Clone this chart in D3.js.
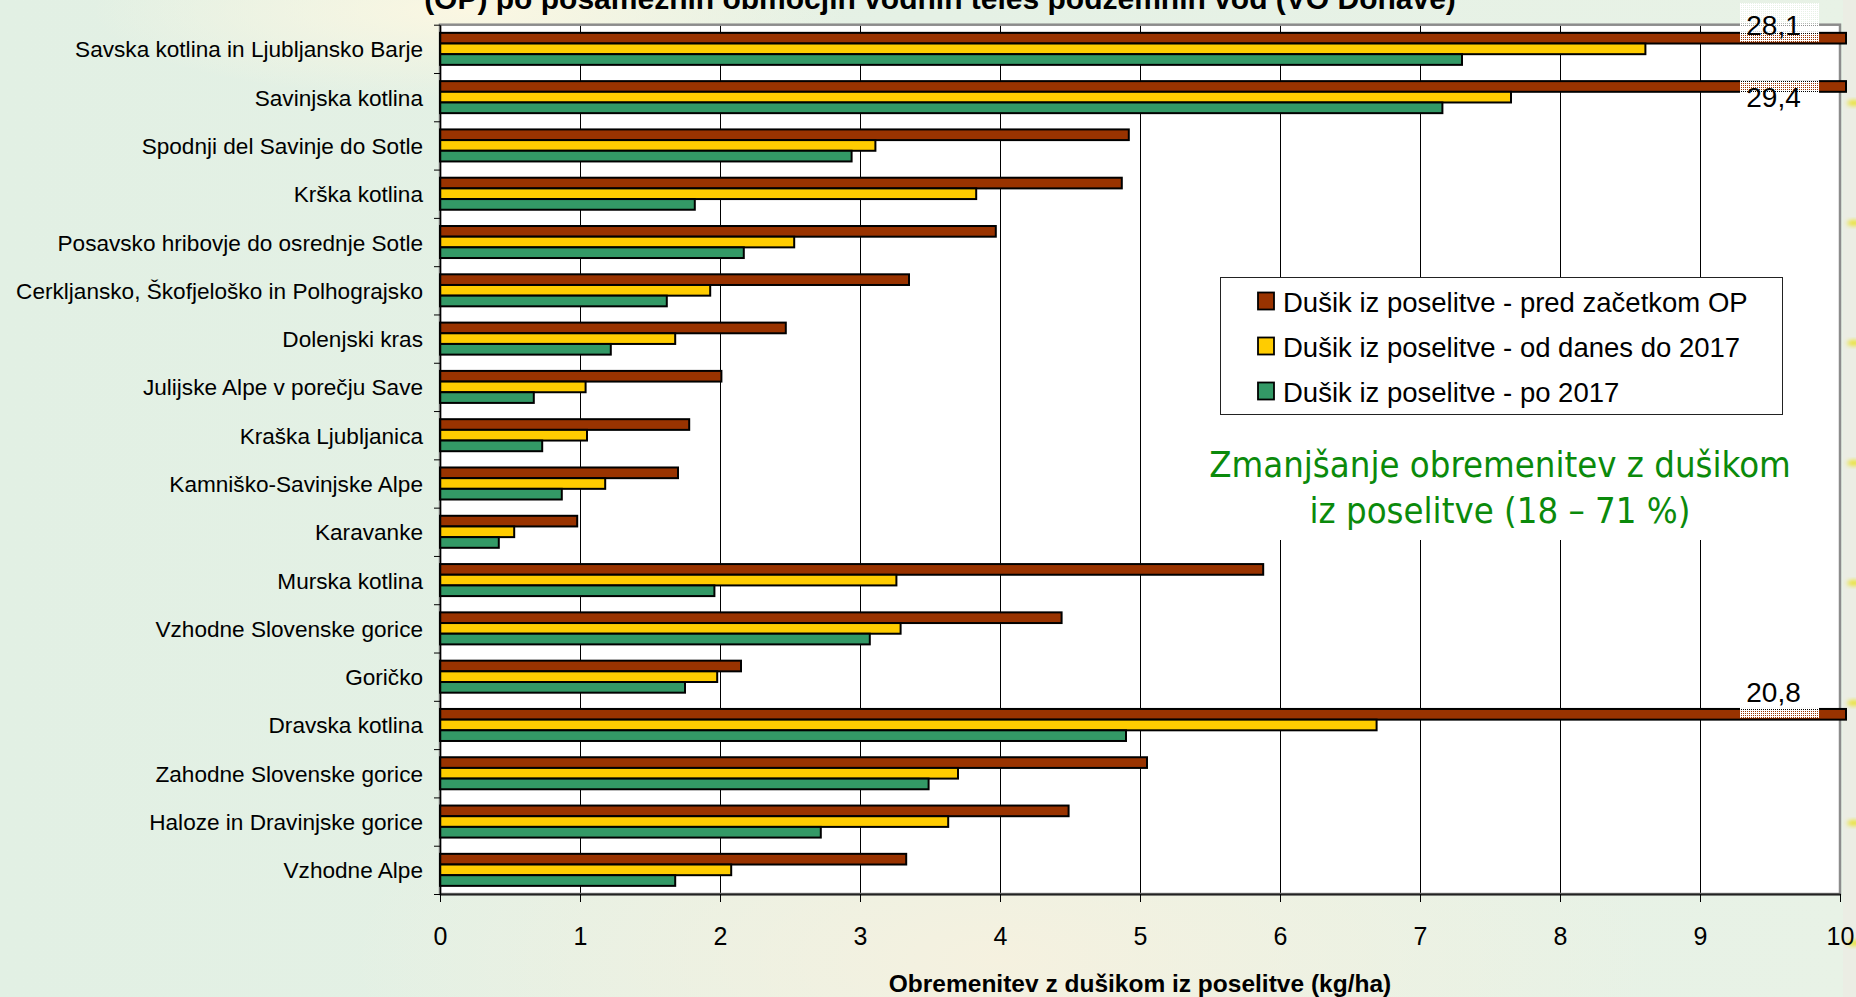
<!DOCTYPE html>
<html>
<head>
<meta charset="utf-8">
<script src="https://cdn.jsdelivr.net/npm/d3@7"></script>
<style>
  html, body { margin: 0; padding: 0; overflow: hidden; background: #e4f1e6; }
  svg { display: block; }
</style>
</head>
<body>
<svg id="chart" width="1856" height="997"></svg>
<script>
// Groundwater bodies (Danube basin), top to bottom
const categories = [
  "Savska kotlina in Ljubljansko Barje",
  "Savinjska kotlina",
  "Spodnji del Savinje do Sotle",
  "Krška kotlina",
  "Posavsko hribovje do osrednje Sotle",
  "Cerkljansko, Škofjeloško in Polhograjsko",
  "Dolenjski kras",
  "Julijske Alpe v porečju Save",
  "Kraška Ljubljanica",
  "Kamniško-Savinjske Alpe",
  "Karavanke",
  "Murska kotlina",
  "Vzhodne Slovenske gorice",
  "Goričko",
  "Dravska kotlina",
  "Zahodne Slovenske gorice",
  "Haloze in Dravinjske gorice",
  "Vzhodne Alpe"
];

const seriesNames = [
  "Dušik iz poselitve - pred začetkom OP",
  "Dušik iz poselitve - od danes do 2017",
  "Dušik iz poselitve - po 2017"
];

// Nitrogen load from settlements, kg/ha
const beforeOP  = [28.1, 29.4, 4.92, 4.87, 3.97, 3.35, 2.47, 2.01, 1.78, 1.70, 0.98, 5.88, 4.44, 2.15, 20.8, 5.05, 4.49, 3.33];
const until2017 = [8.61, 7.65, 3.11, 3.83, 2.53, 1.93, 1.68, 1.04, 1.05, 1.18, 0.53, 3.26, 3.29, 1.98, 6.69, 3.70, 3.63, 2.08];
const after2017 = [7.30, 7.16, 2.94, 1.82, 2.17, 1.62, 1.22, 0.67, 0.73, 0.87, 0.42, 1.96, 3.07, 1.75, 4.90, 3.49, 2.72, 1.68];

const seriesColors = ["#993300", "#FFCC00", "#339966"];
const xTicks = [0, 1, 2, 3, 4, 5, 6, 7, 8, 9, 10];

const titleText = "(OP) po posameznih območjih vodnih teles podzemnih vod (VO Donave)";
const axisTitle = "Obremenitev z dušikom iz poselitve (kg/ha)";
const noteLines = ["Zmanjšanje obremenitev z dušikom", "iz poselitve (18 – 71 %)"];

const series = [beforeOP, until2017, after2017];
const FONT = "'Liberation Sans', Arial, sans-serif";

const svg = d3.select("#chart");
const W = 1856, H = 997;
const plot = { left: 440, right: 1840, top: 24.7, bottom: 894 };

const x = d3.scaleLinear().domain([0, 10]).range([plot.left, plot.right]);
const y = d3.scaleBand().domain(categories).range([plot.top, plot.bottom])
  .paddingInner(0.337).paddingOuter(0.1685);
const ySub = d3.scaleBand().domain(d3.range(series.length)).range([0, y.bandwidth()]);
const yEdge = d3.scaleLinear().domain([0, categories.length]).range([plot.top, plot.bottom]);

// ---------- defs ----------
const defs = svg.append("defs");
const bgGrad = defs.append("radialGradient").attr("id", "warm1")
  .attr("cx", 0.5).attr("cy", 0.5).attr("r", 0.5);
bgGrad.append("stop").attr("offset", "0%").attr("stop-color", "#f6f1df").attr("stop-opacity", 0.95);
bgGrad.append("stop").attr("offset", "100%").attr("stop-color", "#f6f1df").attr("stop-opacity", 0);
const bgGrad2 = defs.append("radialGradient").attr("id", "warm2")
  .attr("cx", 0.5).attr("cy", 0.5).attr("r", 0.5);
bgGrad2.append("stop").attr("offset", "0%").attr("stop-color", "#fbf7e2").attr("stop-opacity", 1);
bgGrad2.append("stop").attr("offset", "100%").attr("stop-color", "#fbf7e2").attr("stop-opacity", 0);
const leftGrad = defs.append("linearGradient").attr("id", "leftTone")
  .attr("x1", 0).attr("x2", 1).attr("y1", 0).attr("y2", 0);
leftGrad.append("stop").attr("offset", "0%").attr("stop-color", "#e2f0e4");
leftGrad.append("stop").attr("offset", "100%").attr("stop-color", "#e8f2e6");

// dithered see-through fill used for text boxes over the plot
const dither = defs.append("pattern").attr("id", "dither")
  .attr("width", 2).attr("height", 2).attr("patternUnits", "userSpaceOnUse");
[[0, 0], [1, 0], [0, 1]].forEach(([px, py]) =>
  dither.append("rect").attr("x", px).attr("y", py).attr("width", 1).attr("height", 1).attr("fill", "#fff"));

defs.append("filter").attr("id", "soft").attr("x", "-50%").attr("y", "-50%")
  .attr("width", "200%").attr("height", "200%")
  .append("feGaussianBlur").attr("stdDeviation", 2);

// ---------- background ----------
svg.append("rect").attr("width", W).attr("height", H).attr("fill", "url(#leftTone)");
svg.append("ellipse").attr("cx", 1000).attr("cy", 960).attr("rx", 650).attr("ry", 260).attr("fill", "url(#warm1)");
svg.append("ellipse").attr("cx", 470).attr("cy", 10).attr("rx", 380).attr("ry", 90).attr("fill", "url(#warm2)");
svg.append("rect").attr("x", plot.right + 3).attr("y", 0).attr("width", W - plot.right - 3).attr("height", H)
  .attr("fill", "#ebede4");
svg.append("g").selectAll("ellipse")
  .data(d3.range(103, H, 120))
  .join("ellipse")
  .attr("cx", W - 2).attr("cy", d => d).attr("rx", 7).attr("ry", 3)
  .attr("fill", "#e9e33a").attr("filter", "url(#soft)");

// ---------- plot area ----------
svg.append("rect")
  .attr("x", plot.left).attr("y", plot.top)
  .attr("width", plot.right - plot.left).attr("height", plot.bottom - plot.top)
  .attr("fill", "#fff");

// vertical gridlines
svg.append("g").selectAll("line")
  .data(xTicks.filter(t => t > 0 && t < 10))
  .join("line")
  .attr("x1", d => Math.round(x(d)) + 0.5).attr("x2", d => Math.round(x(d)) + 0.5)
  .attr("y1", plot.top).attr("y2", plot.bottom)
  .attr("stroke", "#000").attr("stroke-width", 1);

// plot frame
svg.append("rect")
  .attr("x", plot.left).attr("y", plot.top)
  .attr("width", plot.right - plot.left).attr("height", plot.bottom - plot.top)
  .attr("fill", "none").attr("stroke", "#8c8c8c").attr("stroke-width", 2.5);

// ---------- bars ----------
const xMaxDrawn = plot.right + 6;
const barData = [];
categories.forEach((c, i) => {
  series.forEach((s, k) => barData.push({ cat: c, k, v: s[i] }));
});

svg.append("g").selectAll("rect")
  .data(barData)
  .join("rect")
  .attr("x", x(0))
  .attr("y", d => y(d.cat) + ySub(d.k))
  .attr("width", d => Math.min(x(d.v), xMaxDrawn) - x(0))
  .attr("height", ySub.bandwidth())
  .attr("fill", d => seriesColors[d.k])
  .attr("stroke", "#000").attr("stroke-width", 2);

// ---------- axes ----------
const xAxis = svg.append("g")
  .attr("transform", `translate(0,${plot.bottom})`)
  .call(d3.axisBottom(x).tickValues(xTicks).tickSize(8).tickPadding(25).tickSizeOuter(0));
xAxis.select(".domain").attr("stroke", "#222").attr("stroke-width", 2);
xAxis.selectAll(".tick line").attr("stroke", "#000");
xAxis.selectAll("text").attr("font-family", FONT).attr("font-size", 25).attr("fill", "#000");

const yAxis = svg.append("g")
  .attr("transform", `translate(${plot.left},0)`)
  .call(d3.axisLeft(yEdge).tickValues(d3.range(categories.length + 1)).tickFormat("").tickSize(6).tickSizeOuter(0));
yAxis.select(".domain").attr("stroke", "#000").attr("stroke-width", 1.5);
yAxis.selectAll(".tick line").attr("stroke", "#000");

// category labels
svg.append("g").selectAll("text")
  .data(categories)
  .join("text")
  .attr("x", 423)
  .attr("y", d => y(d) + y.bandwidth() / 2 + 1)
  .attr("text-anchor", "end")
  .attr("dominant-baseline", "central")
  .attr("font-family", FONT).attr("font-size", 22.6).attr("fill", "#000")
  .text(d => d);

// ---------- values beyond the axis maximum ----------
const fmt = v => d3.format(".1f")(v).replace(".", ",");
const clipped = categories.map((c, i) => ({ cat: c, i, v: beforeOP[i] }))
  .filter(d => d.v > x.domain()[1]);
const boxCx = plot.right - 60.5;
clipped.forEach((d, j) => {
  const redTop = y(d.cat) + ySub(0);
  const redBot = redTop + ySub.bandwidth();
  const prevClipped = j > 0 && clipped[j - 1].i === d.i - 1;
  let baseline, boxTop, boxBot;
  if (prevClipped) {
    baseline = redBot + 15;
    boxTop = redTop - 1;
    boxBot = baseline + 5;
  } else {
    baseline = Math.max(redTop - 7, 35);
    boxTop = baseline - 32;
    boxBot = redTop + 9;
  }
  svg.append("rect")
    .attr("x", boxCx - 39.5).attr("y", boxTop)
    .attr("width", 79).attr("height", boxBot - boxTop)
    .attr("fill", "url(#dither)");
  svg.append("text")
    .attr("x", boxCx - 6).attr("y", baseline)
    .attr("text-anchor", "middle")
    .attr("font-family", FONT).attr("font-size", 28).attr("fill", "#000")
    .text(fmt(d.v));
});

// ---------- legend ----------
const legend = svg.append("g");
legend.append("rect")
  .attr("x", 1220.5).attr("y", 277.5).attr("width", 562).attr("height", 137)
  .attr("fill", "#fff").attr("stroke", "#222").attr("stroke-width", 1);
const legItems = legend.selectAll("g.item")
  .data(seriesNames)
  .join("g").attr("class", "item")
  .attr("transform", (d, i) => `translate(1258,${301 + i * 45})`);
legItems.append("rect")
  .attr("x", 0).attr("y", -8.5).attr("width", 16).attr("height", 17)
  .attr("fill", (d, i) => seriesColors[i]).attr("stroke", "#000").attr("stroke-width", 1.8);
legItems.append("text")
  .attr("x", 25).attr("y", 1)
  .attr("dominant-baseline", "central")
  .attr("font-family", FONT).attr("font-size", 27.5).attr("fill", "#000")
  .text(d => d);

// ---------- note ----------
svg.append("rect")
  .attr("x", 1195).attr("y", 415).attr("width", 610).attr("height", 125)
  .attr("fill", "url(#dither)");
svg.append("g").selectAll("text")
  .data(noteLines)
  .join("text")
  .attr("x", 1500)
  .attr("y", (d, i) => 477 + i * 46)
  .attr("text-anchor", "middle")
  .attr("font-family", "'DejaVu Sans Condensed', 'DejaVu Sans', sans-serif")
  .attr("font-stretch", "condensed")
  .attr("font-size", 36.2).attr("fill", "#0b8a0b")
  .text(d => d);

// ---------- titles ----------
svg.append("text")
  .attr("x", 940).attr("y", 9)
  .attr("text-anchor", "middle")
  .attr("font-family", FONT).attr("font-weight", "bold").attr("font-size", 30).attr("fill", "#000")
  .text(titleText);

svg.append("text")
  .attr("x", 1140).attr("y", 992)
  .attr("text-anchor", "middle")
  .attr("font-family", FONT).attr("font-weight", "bold").attr("font-size", 24.5).attr("fill", "#000")
  .text(axisTitle);
</script>
</body>
</html>
